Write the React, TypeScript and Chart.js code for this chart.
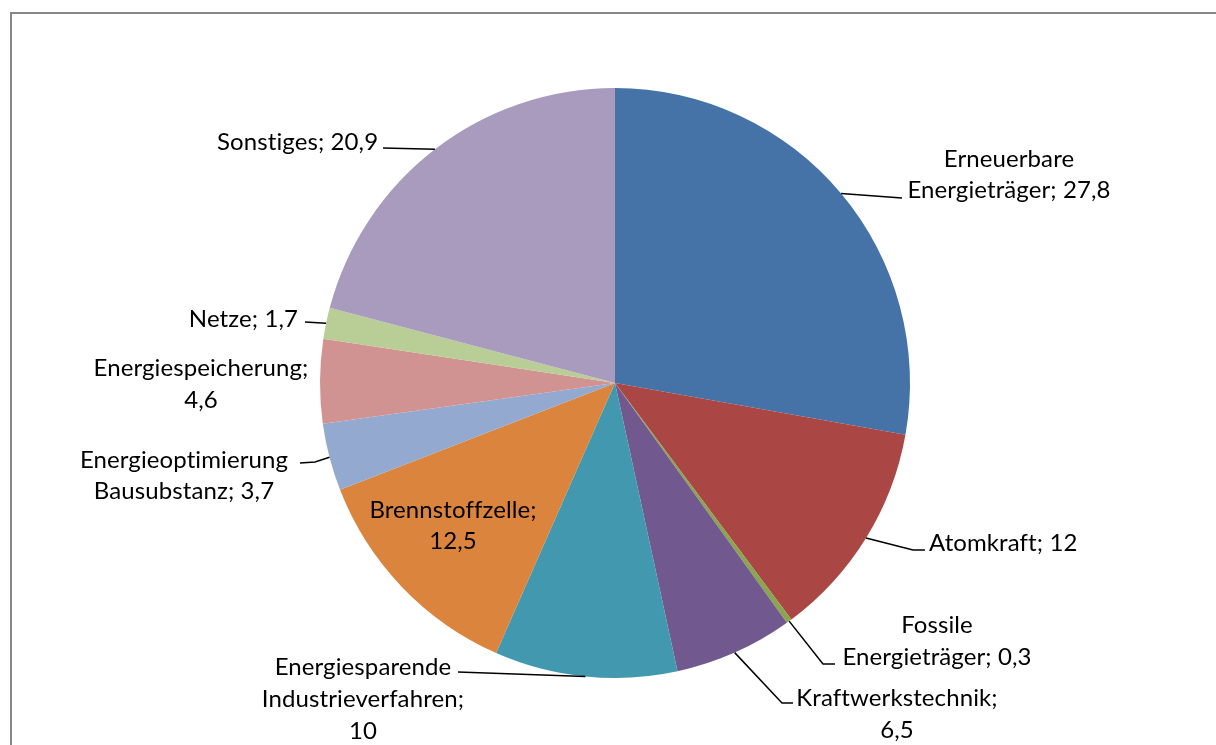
import React, { useEffect, useRef } from "react";
import { Chart, registerables } from "chart.js";

Chart.register(...registerables);

const categories = [
  "Erneuerbare Energieträger",
  "Atomkraft",
  "Fossile Energieträger",
  "Kraftwerkstechnik",
  "Energiesparende Industrieverfahren",
  "Brennstoffzelle",
  "Energieoptimierung Bausubstanz",
  "Energiespeicherung",
  "Netze",
  "Sonstiges",
];
const values = [27.8, 12, 0.3, 6.5, 10, 12.5, 3.7, 4.6, 1.7, 20.9];
const colors = [
  "#4572A7", "#AA4643", "#89A54E", "#71588F", "#4198AF",
  "#DB843D", "#93A9CF", "#D19392", "#B9CD96", "#A99BBD",
];
const labelLines = [
  ["Erneuerbare", "Energieträger; 27,8"],
  ["Atomkraft; 12"],
  ["Fossile", "Energieträger; 0,3"],
  ["Kraftwerkstechnik;", "6,5"],
  ["Energiesparende", "Industrieverfahren;", "10"],
  ["Brennstoffzelle;", "12,5"],
  ["Energieoptimierung", "Bausubstanz; 3,7"],
  ["Energiespeicherung;", "4,6"],
  ["Netze; 1,7"],
  ["Sonstiges; 20,9"],
];

type Layout = { x: number; align: CanvasTextAlign; ys: number[]; leader: number[][] | null };
const labelLayout: Layout[] = [
  { x: 1009, align: "center", ys: [159, 190], leader: [[902, 198]] },
  { x: 929, align: "left", ys: [543], leader: [[913, 550], [925, 550]] },
  { x: 937, align: "center", ys: [625, 657], leader: [[823, 664], [835, 664]] },
  { x: 897, align: "center", ys: [698, 730], leader: [[782, 703], [793, 703]] },
  { x: 363, align: "center", ys: [667, 699, 731], leader: [[458, 672]] },
  { x: 453, align: "center", ys: [510, 541], leader: null },
  { x: 184, align: "center", ys: [460, 491], leader: [[315, 462], [300, 463]] },
  { x: 201, align: "center", ys: [368, 400], leader: null },
  { x: 298, align: "right", ys: [319], leader: [[305, 322]] },
  { x: 217, align: "left", ys: [142], leader: [[383, 148]] },
];

const FONT = "24px Lato, 'Liberation Sans', sans-serif";

const labelPlugin = {
  id: "pieLabels",
  beforeDraw(chart: any) {
    const ctx = chart.ctx;
    ctx.save();
    ctx.strokeStyle = "#878787";
    ctx.lineWidth = 2;
    ctx.strokeRect(11, 13, 1400, 900);
    ctx.restore();
  },
  afterDatasetsDraw(chart: any) {
    const ctx = chart.ctx;
    const meta = chart.getDatasetMeta(0);
    ctx.save();
    ctx.font = FONT;
    try {
      (ctx as any).letterSpacing = "0.1px";
    } catch (e) {}
    ctx.fillStyle = "#000";
    ctx.textBaseline = "middle";
    meta.data.forEach((arc: any, i: number) => {
      const p = arc.getProps(["x", "y", "startAngle", "endAngle", "outerRadius"], true);
      const lay = labelLayout[i];
      if (lay.leader) {
        const mid = (p.startAngle + p.endAngle) / 2;
        const sx = p.x + Math.cos(mid) * p.outerRadius;
        const sy = p.y + Math.sin(mid) * p.outerRadius;
        ctx.beginPath();
        ctx.strokeStyle = "#000";
        ctx.lineWidth = 1.5;
        ctx.moveTo(sx, sy);
        lay.leader.forEach((pt) => ctx.lineTo(pt[0], pt[1]));
        ctx.stroke();
      }
      ctx.textAlign = lay.align;
      labelLines[i].forEach((t, k) => ctx.fillText(t, lay.x, lay.ys[k]));
    });
    ctx.restore();
  },
};

export default function App() {
  const ref = useRef<HTMLCanvasElement>(null);
  useEffect(() => {
    if (!ref.current) return;
    const chart = new Chart(ref.current, {
      type: "pie",
      data: {
        labels: categories,
        datasets: [
          {
            data: values,
            backgroundColor: colors,
            borderWidth: 0,
          },
        ],
      },
      options: {
        animation: false,
        responsive: false,
        layout: { padding: { top: 88, bottom: 67, left: 320, right: 306 } },
        plugins: { legend: { display: false }, tooltip: { enabled: false } },
      },
      plugins: [labelPlugin],
    });
    return () => chart.destroy();
  }, []);
  return (
    <div style={{ position: "fixed", left: 0, top: 0, width: 1216, height: 745, background: "#fff" }}>
      <canvas ref={ref} width={1216} height={745} style={{ display: "block" }} />
    </div>
  );
}
